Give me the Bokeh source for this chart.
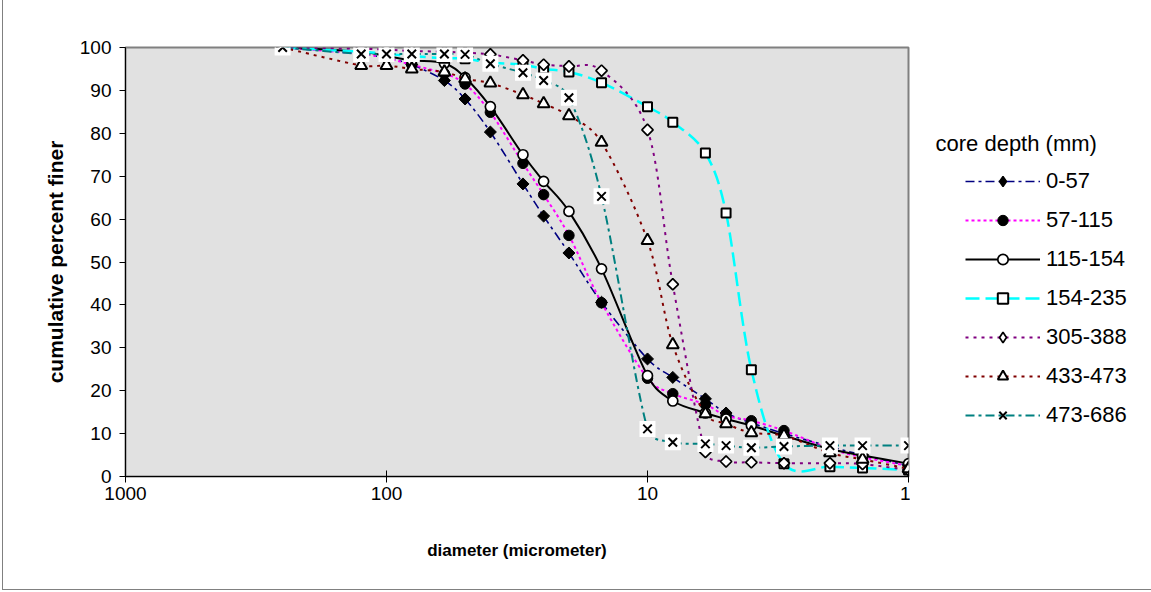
import numpy as np
from bokeh.plotting import figure
from bokeh.layouts import row
from bokeh.models import (Range1d, FixedTicker, NumeralTickFormatter, Legend,
                          LegendItem, Label)
from bokeh.embed import file_html
from bokeh.resources import INLINE

# ---------------- data ----------------
diameter = [250, 125, 100, 80, 60, 50, 40, 30, 25, 20, 15, 10, 8, 6, 5, 4, 3, 2, 1.5, 1]

d_0_57    = [100, 98.5, 97.5, 96.0, 92.3, 88.0, 80.3, 68.2, 60.7, 52.1, 40.6, 27.4, 23.1, 18.1, 14.8, 12.5, 10.0, 7.0, 5.0, 2.5]
d_57_115  = [100, 98.5, 97.5, 96.0, 93.9, 91.5, 84.9, 73.0, 65.7, 56.2, 40.5, 22.9, 19.3, 16.8, 14.2, 13.0, 10.7, 6.5, 4.5, 2.5]
d_115_154 = [100, 99.0, 98.0, 97.0, 96.3, 93.0, 86.2, 75.0, 68.8, 61.8, 48.4, 23.5, 17.6, 14.8, 13.4, 11.9, 9.5, 6.4, 4.9, 3.0]
d_154_235 = [100, 99.0, 98.5, 98.0, 97.5, 97.4, 96.5, 96.0, 95.0, 94.3, 91.8, 86.2, 82.6, 75.4, 61.4, 24.9, 3.0, 2.3, 2.0, 1.5]
d_305_388 = [100, 99.7, 99.5, 99.2, 99.0, 98.8, 98.4, 97.0, 96.0, 95.6, 94.6, 80.8, 44.8, 5.7, 3.5, 3.3, 3.1, 3.1, 2.9, 1.5]
d_433_473 = [100, 95.8, 95.8, 95.0, 94.3, 92.7, 91.7, 89.0, 86.9, 84.1, 77.9, 55.0, 30.7, 14.6, 12.3, 10.2, 9.5, 5.5, 4.0, 1.8]
d_473_686 = [100, 98.5, 98.5, 98.5, 98.5, 98.4, 96.2, 94.1, 92.3, 88.3, 65.3, 11.1, 8.0, 7.6, 7.2, 6.7, 7.0, 7.2, 7.2, 7.2]

series_names = ["0-57", "57-115", "115-154", "154-235", "305-388", "433-473", "473-686"]
series_values = [d_0_57, d_57_115, d_115_154, d_154_235, d_305_388, d_433_473, d_473_686]

x_ticks = [1000, 100, 10, 1]
y_ticks = [0, 10, 20, 30, 40, 50, 60, 70, 80, 90, 100]

# ---------------- styles ----------------
FONT = "Liberation Sans"
FRAME_W, FRAME_H = 783, 429
LEFT, TOP = 125, 47
FRAME_BOTTOM = TOP + FRAME_H
MAIN_W = LEFT + FRAME_W + 2
TOTAL_W, TOTAL_H = 1151, 592
PX_DEC = FRAME_W / 3.0
PX_UNIT = FRAME_H / 100.0

line_styles = [
    dict(line_color="#000080", line_dash="9 4 3 4", line_width=1.6),
    dict(line_color="#FF00FF", line_dash="3 3", line_width=2),
    dict(line_color="#000000", line_dash="solid", line_width=2),
    dict(line_color="#00FFFF", line_dash="14 6", line_width=2.5),
    dict(line_color="#800080", line_dash="3 5", line_width=2),
    dict(line_color="#800000", line_dash="3 5", line_width=2),
    dict(line_color="#008080", line_dash="9 4 3 4", line_width=2),
]

# markers in the plot (diamonds = squares turned by 45 degrees)
marker_styles = [
    [dict(marker="square", size=8.5, angle=np.pi / 4, fill_color="black", line_color="black", line_width=1)],
    [dict(marker="circle", size=10.5, fill_color="black", line_color="black", line_width=1)],
    [dict(marker="circle", size=10, fill_color="white", line_color="black", line_width=1.7)],
    [dict(marker="square", size=9, fill_color="white", line_color="black", line_width=2)],
    [dict(marker="square", size=8, angle=np.pi / 4, fill_color="white", line_color="black", line_width=1.7)],
    [dict(marker="triangle", size=12, fill_color="white", line_color="black", line_width=2)],
    [dict(marker="square", size=16, fill_color="white", line_color=None),
     dict(marker="x", size=12, line_color="black", line_width=2)],
]

# markers in the legend (legend glyphs ignore marker angles)
legend_marker_styles = [
    [dict(marker="diamond", size=10, fill_color="black", line_color="black", line_width=1.5)],
    [dict(marker="circle", size=10, fill_color="black", line_color="black", line_width=1)],
    [dict(marker="circle", size=10, fill_color="white", line_color="black", line_width=1.7)],
    [dict(marker="square", size=10, fill_color="white", line_color="black", line_width=2)],
    [dict(marker="diamond", size=10, fill_color="white", line_color="black", line_width=1.7)],
    [dict(marker="triangle", size=10, fill_color="white", line_color="black", line_width=2)],
    [dict(marker="x", size=10, line_color="black", line_width=2)],
]


def smooth_segments(xs, ys):
    """Excel-like smoothed curve: one cubic Bezier per pair of data points."""
    P = np.column_stack([np.log10(np.asarray(xs, float)) * PX_DEC,
                         np.asarray(ys, float) * PX_UNIT])
    n = len(P)

    def ctrl(i, j):
        prev = P[max(i - 1, 0)]
        nxt = P[min(i + 1, n - 1)]
        t = (nxt - prev) / 6.0
        if j < i:
            t = -t
        lim = 0.5 * np.linalg.norm(P[j] - P[i])
        L = np.linalg.norm(t)
        if L > lim and L > 0:
            t = t * lim / L
        return P[i] + t

    seg = dict(x0=[], y0=[], x1=[], y1=[], cx0=[], cy0=[], cx1=[], cy1=[])
    for i in range(n - 1):
        c0 = ctrl(i, i + 1)
        c1 = ctrl(i + 1, i)
        for key, pt in (("0", P[i]), ("1", P[i + 1])):
            seg["x" + key].append(10 ** (pt[0] / PX_DEC))
            seg["y" + key].append(pt[1] / PX_UNIT)
        seg["cx0"].append(10 ** (c0[0] / PX_DEC))
        seg["cy0"].append(c0[1] / PX_UNIT)
        seg["cx1"].append(10 ** (c1[0] / PX_DEC))
        seg["cy1"].append(c1[1] / PX_UNIT)
    return seg


p = figure(x_axis_type="log", x_range=Range1d(1000, 1), y_range=Range1d(0, 100),
           frame_width=FRAME_W, frame_height=FRAME_H,
           min_border_left=LEFT, min_border_right=2, min_border_top=TOP,
           min_border_bottom=TOTAL_H - TOP - FRAME_H,
           output_backend="svg", toolbar_location=None)

p.background_fill_color = "#E1E1E1"
p.border_fill_alpha = 0
p.outline_line_color = "#808080"
p.outline_line_width = 2
p.xgrid.visible = False
p.ygrid.visible = False

# axes
p.xaxis.ticker = FixedTicker(ticks=x_ticks)
p.xaxis.formatter = NumeralTickFormatter(format="0")
p.yaxis.ticker = FixedTicker(ticks=y_ticks)
for ax in (p.xaxis, p.yaxis):
    ax.axis_line_color = "black"
    ax.axis_line_width = 1
    ax.major_tick_line_color = "black"
    ax.minor_tick_line_color = None
    ax.major_label_text_font = FONT
    ax.major_label_text_font_size = "19px"
    ax.major_label_text_color = "black"
    ax.axis_label_text_font = FONT
    ax.axis_label_text_font_style = "bold"
    ax.axis_label_text_color = "black"
p.xaxis.axis_label_text_font_size = "17px"
p.yaxis.axis_label_text_font_size = "21px"
p.xaxis.major_tick_in = 6
p.xaxis.major_tick_out = 6
p.yaxis.major_tick_in = 0
p.yaxis.major_tick_out = 6
p.xaxis.major_label_standoff = 4
p.yaxis.major_label_standoff = 8
p.xaxis.axis_label = "diameter (micrometer)"
p.yaxis.axis_label = "cumulative percent finer"
p.xaxis.axis_label_standoff = 38
p.yaxis.axis_label_standoff = 10

for vals, ls, ms in zip(series_values, line_styles, marker_styles):
    seg = smooth_segments(diameter, vals)
    p.bezier(x0=seg["x0"], y0=seg["y0"], x1=seg["x1"], y1=seg["y1"],
             cx0=seg["cx0"], cy0=seg["cy0"], cx1=seg["cx1"], cy1=seg["cy1"], **ls)
    for m in ms:
        p.scatter(x=diameter, y=vals, **m)

# ---------------- legend panel (separate canvas to the right) ----------------
# its frame is aligned with the main frame (top 47, bottom 476)
LW = TOTAL_W - MAIN_W
lp = figure(width=LW, height=TOTAL_H, x_range=Range1d(-10, -9), y_range=Range1d(-10, -9),
            min_border=0, output_backend="svg", toolbar_location=None)
lp.axis.visible = False
lp.grid.visible = False
lp.outline_line_color = None
lp.background_fill_alpha = 0
lp.border_fill_alpha = 0

items = []
for name, vals, ls, ms in zip(series_names, series_values, line_styles, legend_marker_styles):
    # same series drawn outside the (empty) view range: only used for the legend glyphs
    rs = [lp.line(x=diameter, y=vals, **ls)]
    for m in ms:
        rs.append(lp.scatter(x=diameter, y=vals, **m))
    items.append(LegendItem(label=name, renderers=rs))

LEG_LEFT, LEG_BOTTOM = 955, 438
legend = Legend(items=items, location=(LEG_LEFT - MAIN_W, FRAME_BOTTOM - LEG_BOTTOM),
                glyph_width=75, glyph_height=26, label_height=26,
                spacing=13, padding=10, margin=0, label_standoff=6,
                label_text_font=FONT, label_text_font_size="22px", label_text_color="black",
                border_line_alpha=0, background_fill_alpha=0)
lp.add_layout(legend)

lp.add_layout(Label(x=935 - MAIN_W, y=FRAME_BOTTOM - 143, x_units="screen", y_units="screen",
                    text="core depth (mm)", text_font=FONT, text_font_size="22px",
                    text_baseline="middle", text_align="left", text_color="black"))

# chart-area border (left and bottom edges, as in the reference)
layout = row(p, lp, spacing=0,
             styles={"background-color": "white",
                     "box-shadow": "inset 2px -2px 0 0 #ffffff, inset 3px -3px 0 0 #808080"})
open("out.html", "w").write(file_html(layout, INLINE))
